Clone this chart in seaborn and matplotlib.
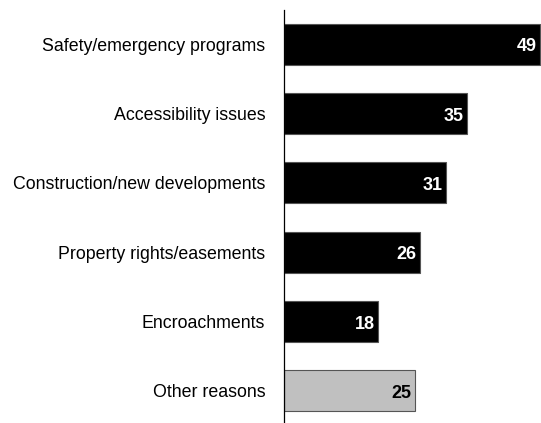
import matplotlib
matplotlib.use("Agg")
import matplotlib.pyplot as plt
import seaborn as sns
import pandas as pd

categories = [
    "Safety/emergency programs",
    "Accessibility issues",
    "Construction/new developments",
    "Property rights/easements",
    "Encroachments",
    "Other reasons",
]
values = [49, 35, 31, 26, 18, 25]
bar_colors = ["#000000", "#000000", "#000000", "#000000", "#000000", "#c0c0c0"]
label_colors = ["white", "white", "white", "white", "white", "black"]

sns.set_theme(style="white")
plt.rcParams["font.family"] = ["Liberation Sans", "DejaVu Sans"]

df = pd.DataFrame({"reason": categories, "count": values})

fig = plt.figure(figsize=(5.41, 4.23), dpi=100)
ax = fig.add_axes([0.525, 0.002, 0.475, 0.974])

sns.barplot(data=df, y="reason", x="count", hue="reason", palette=bar_colors,
            legend=False, orient="h", width=0.59, ax=ax,
            edgecolor="#555555", linewidth=0.8)

ax.set_xlim(0, 49.15)
ax.set_ylim(5.45, -0.49)
ax.set_xlabel("")
ax.set_ylabel("")
ax.set_xticks([])
for s in ["top", "right", "bottom"]:
    ax.spines[s].set_visible(False)
ax.spines["left"].set_color("#000000")
ax.spines["left"].set_linewidth(0.9)
ax.tick_params(axis="y", length=0, pad=13.5, labelsize=12.8, colors="black")

for i, (v, c) in enumerate(zip(values, label_colors)):
    ax.text(v - 0.7, i + 0.04, str(v), ha="right", va="center", color=c,
            fontsize=13, fontweight="bold")

fig.savefig("out.png", dpi=100)
